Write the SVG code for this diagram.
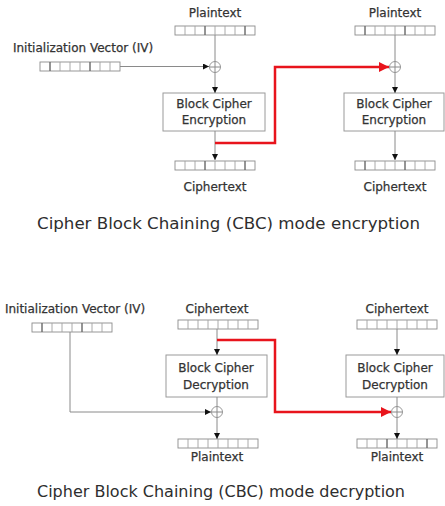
<svg xmlns="http://www.w3.org/2000/svg" width="445" height="506" viewBox="0 0 445 506">
<style>
  .lbl { font-family: "DejaVu Sans", "Liberation Sans", sans-serif; font-size: 12px; fill: #333333; stroke: #333333; stroke-width: 0.25; text-anchor: middle; }
  .ttl { font-family: "DejaVu Sans", "Liberation Sans", sans-serif; font-size: 16px; fill: #2e2e2e; }
  .box { fill: #ffffff; stroke: #9a9a9a; stroke-width: 1; }
  .wire { fill: none; stroke: #8a8a8a; stroke-width: 1; }
  .red { fill: none; stroke: #e8141c; stroke-width: 2.5; }
  .xor { fill: #ffffff; stroke: #9a9a9a; stroke-width: 1; }
  .reg { fill: #ffffff; stroke: #8c8c8c; stroke-width: 0.9; }
  .cell { stroke: #a0a0a0; stroke-width: 0.9; }
  .dark { stroke: #555555; stroke-width: 1; }
</style>
<defs>
  <marker id="ah" viewBox="0 0 6 6" refX="6" refY="3" markerWidth="6" markerHeight="6" markerUnits="userSpaceOnUse" orient="auto">
    <path d="M0,0 L6,3 L0,6 z" fill="#111111"/>
  </marker>
  <marker id="ahr" viewBox="0 0 10 10" refX="10" refY="5" markerWidth="10" markerHeight="10" markerUnits="userSpaceOnUse" orient="auto">
    <path d="M0,0 L10,5 L0,10 z" fill="#e8141c"/>
  </marker>
  <g id="reg">
    <rect class="reg" x="0" y="0" width="80" height="9"/>
    <path class="cell" d="M10,0V9M20,0V9M30,0V9M40,0V9M50,0V9M60,0V9M70,0V9"/>
  </g>
  <g id="regA">
    <use href="#reg"/>
    <path class="dark" d="M10,0V9M50,0V9"/>
  </g>
  <g id="regB">
    <use href="#reg"/>
    <path class="dark" d="M30,0V9M70,0V9"/>
  </g>
  <g id="xor">
    <circle class="xor" cx="0" cy="0" r="5.5"/>
    <path class="wire" d="M-5.5,0H5.5M0,-5.5V5.5"/>
  </g>
</defs>

<!-- ===== Encryption ===== -->
<g id="enc-iv">
  <text class="lbl" x="83" y="52">Initialization Vector (IV)</text>
  <use href="#regA" x="40" y="62"/>
</g>
<g id="enc-pt1">
  <text class="lbl" x="215" y="17">Plaintext</text>
  <use href="#regB" x="175" y="26"/>
</g>
<g id="enc-xor1"><use href="#xor" x="215" y="67"/></g>
<g id="enc-bc1">
  <rect class="box" x="163" y="93" width="102" height="38"/>
  <text class="lbl" x="214" y="108">Block Cipher</text>
  <text class="lbl" x="214" y="124">Encryption</text>
</g>
<g id="enc-ct1">
  <use href="#regB" x="175" y="161"/>
  <text class="lbl" x="215" y="191">Ciphertext</text>
</g>
<g id="enc-pt2">
  <text class="lbl" x="395" y="17">Plaintext</text>
  <use href="#regA" x="355" y="26"/>
</g>
<g id="enc-xor2"><use href="#xor" x="395" y="67"/></g>
<g id="enc-bc2">
  <rect class="box" x="344" y="93" width="100" height="38"/>
  <text class="lbl" x="394" y="108">Block Cipher</text>
  <text class="lbl" x="394" y="124">Encryption</text>
</g>
<g id="enc-ct2">
  <use href="#regA" x="355" y="161"/>
  <text class="lbl" x="395" y="191">Ciphertext</text>
</g>
<g id="enc-title">
  <text class="ttl" x="37" y="229" textLength="383" lengthAdjust="spacingAndGlyphs">Cipher Block Chaining (CBC) mode encryption</text>
</g>

<!-- ===== Decryption ===== -->
<g id="dec-iv">
  <text class="lbl" x="75" y="313">Initialization Vector (IV)</text>
  <use href="#regA" x="32" y="323"/>
</g>
<g id="dec-ct1">
  <text class="lbl" x="217" y="313">Ciphertext</text>
  <use href="#reg" x="178" y="320"/>
</g>
<g id="dec-bc1">
  <rect class="box" x="166" y="355" width="101" height="42"/>
  <text class="lbl" x="216" y="372">Block Cipher</text>
  <text class="lbl" x="216" y="389">Decryption</text>
</g>
<g id="dec-xor1"><use href="#xor" x="217" y="412"/></g>
<g id="dec-pt1">
  <use href="#reg" x="178" y="439"/>
  <text class="lbl" x="217" y="461">Plaintext</text>
</g>
<g id="dec-ct2">
  <text class="lbl" x="397" y="313">Ciphertext</text>
  <use href="#reg" x="357" y="320"/>
</g>
<g id="dec-bc2">
  <rect class="box" x="346" y="355" width="98" height="42"/>
  <text class="lbl" x="395" y="372">Block Cipher</text>
  <text class="lbl" x="395" y="389">Decryption</text>
</g>
<g id="dec-xor2"><use href="#xor" x="397" y="412"/></g>
<g id="dec-pt2">
  <use href="#regB" x="357" y="439"/>
  <text class="lbl" x="397" y="461">Plaintext</text>
</g>
<g id="dec-title">
  <text class="ttl" x="37" y="497" textLength="368" lengthAdjust="spacingAndGlyphs">Cipher Block Chaining (CBC) mode decryption</text>
</g>

<!-- ===== Connectors ===== -->
<g id="connectors">
  <!-- encryption -->
  <path class="wire" d="M120,66.5H209" marker-end="url(#ah)"/>
  <path class="wire" d="M215,35V61.5"/>
  <path class="wire" d="M215,72.5V93" marker-end="url(#ah)"/>
  <path class="wire" d="M215,131V160" marker-end="url(#ah)"/>
  <path class="wire" d="M395,35V61.5"/>
  <path class="wire" d="M395,72.5V93" marker-end="url(#ah)"/>
  <path class="wire" d="M395,131V160" marker-end="url(#ah)"/>
  <path class="red" d="M215,143H275V67H389" marker-end="url(#ahr)"/>
  <!-- decryption -->
  <path class="wire" d="M70,332V412H211" marker-end="url(#ah)"/>
  <path class="wire" d="M217,329V355" marker-end="url(#ah)"/>
  <path class="wire" d="M217,397V406.5"/>
  <path class="wire" d="M217,417.5V439" marker-end="url(#ah)"/>
  <path class="wire" d="M397,329V355" marker-end="url(#ah)"/>
  <path class="wire" d="M397,397V406.5"/>
  <path class="wire" d="M397,417.5V439" marker-end="url(#ah)"/>
  <path class="red" d="M217,340H275V412H391" marker-end="url(#ahr)"/>
</g>
</svg>
